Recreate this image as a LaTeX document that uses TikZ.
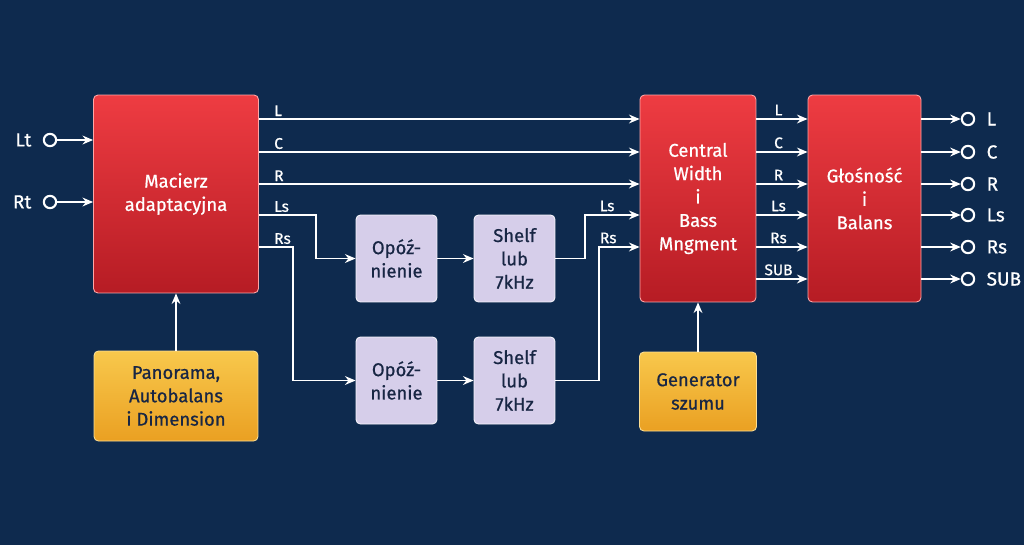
\documentclass[tikz,border=0pt]{standalone}
\usepackage{fontspec}
\setmainfont{Fira Sans}[UprightFeatures={FakeBold=0.7}]
\usetikzlibrary{arrows.meta,positioning}

\definecolor{navy}{RGB}{14,42,78}
\definecolor{redtop}{RGB}{238,60,66}
\definecolor{redbot}{RGB}{182,28,36}
\definecolor{yeltop}{RGB}{248,200,76}
\definecolor{yelbot}{RGB}{234,160,34}
\definecolor{lilac}{RGB}{214,206,234}
\definecolor{ink}{RGB}{24,38,68}

\tikzset{
  boxtext/.style={align=center, font=\fontsize{10.5}{13.3}\selectfont},
  redbox/.style={boxtext, draw=red!35!white, line width=0.5pt, rounded corners=2.5pt,
    top color=redtop, bottom color=redbot, text=white},
  yelbox/.style={boxtext, draw=yeltop!60!white, line width=0.5pt, rounded corners=2.5pt,
    top color=yeltop, bottom color=yelbot, text=ink},
  lilbox/.style={boxtext, draw=white!80!lilac, line width=0.5pt, rounded corners=2.5pt,
    fill=lilac, text=ink, minimum width=1.62cm, minimum height=1.74cm},
  sig/.style={draw=white, line width=1.1pt, -{Stealth[length=6pt,width=5pt]}},
  port/.style={draw=white, line width=1.2pt, circle, fill=navy, inner sep=0pt, minimum size=7pt},
  chan/.style={text=white, font=\fontsize{8.8}{10}\selectfont, inner sep=1.5pt},
  io/.style={text=white, font=\fontsize{10.8}{12}\selectfont}
}

\begin{document}
\begin{tikzpicture}[x=0.02cm, y=-0.02cm]
  \fill[navy] (0,0) rectangle (1024,545);
  \useasboundingbox (0,0) rectangle (1024,545);

  % main blocks
  \node[redbox, minimum width=3.3cm, minimum height=3.96cm] (mac) at (176,194) {Macierz\\adaptacyjna};
  \node[redbox, minimum width=2.32cm, minimum height=4.14cm] (cen) at (698,198.5) {Central\\Width\\i\\Bass\\Mngment};
  \node[redbox, minimum width=2.26cm, minimum height=4.14cm] (vol) at (864.5,198.5) {Głośność\\i\\Balans};

  \node[lilbox] (del1) at (396.5,258.5) {Opóź-\\nienie};
  \node[lilbox] (shf1) at (514.5,258.5) {Shelf\\lub\\7kHz};
  \node[lilbox] (del2) at (396.5,380.5) {Opóź-\\nienie};
  \node[lilbox] (shf2) at (514.5,380.5) {Shelf\\lub\\7kHz};

  \node[yelbox, minimum width=3.28cm, minimum height=1.8cm] (pan) at (176,396) {Panorama,\\Autobalans\\i Dimension};
  \node[yelbox, minimum width=2.34cm, minimum height=1.58cm] (gen) at (698,391.5) {Generator\\szumu};

  % inputs
  \node[port, label={[io, xshift=-3pt]left:Lt}] (iLt) at (50,140) {};
  \node[port, label={[io, xshift=-3pt]left:Rt}] (iRt) at (50,202) {};
  \draw[sig] (iLt) -- (iLt -| mac.west);
  \draw[sig] (iRt) -- (iRt -| mac.west);

  % front channels
  \foreach \ch/\y in {L/119, C/152, R/184} {
    \draw[sig] (mac.east |- 0,\y) -- (cen.west |- 0,\y);
    \node[chan, anchor=south west, xshift=7pt] at (mac.east |- 0,\y) {\ch};
  }
  \node[chan, anchor=south west, xshift=7pt] at (mac.east |- 0,215) {Ls};
  \node[chan, anchor=south west, xshift=7pt] at (mac.east |- 0,247) {Rs};

  % surround paths
  \draw[sig] (mac.east |- 0,215) -- ++(57,0) |- (del1);
  \draw[sig] (mac.east |- 0,247) -- ++(34,0) |- (del2);
  \draw[sig] (del1) -- (shf1);
  \draw[sig] (del2) -- (shf2);
  \draw[sig] (shf1.east) -- ++(30,0) |- (cen.west |- 0,215) node[chan, pos=0.7, above] {Ls};
  \draw[sig] (shf2.east) -- ++(44,0) |- (cen.west |- 0,247) node[chan, pos=0.61, above] {Rs};

  % control
  \draw[sig] (pan) -- (mac);
  \draw[sig] (gen) -- (cen);

  % to volume block
  \foreach \ch/\y in {L/119, C/152, R/184, Ls/215, Rs/247, SUB/279} {
    \draw[sig] (cen.east |- 0,\y) -- (vol.west |- 0,\y) node[chan, midway, above, xshift=-2pt] {\ch};
  }

  % outputs
  \foreach \ch/\y in {L/119, C/152, R/184, Ls/215, Rs/247, SUB/279} {
    \node[port, label={[io, xshift=3pt]right:\ch}] (o\ch) at (968,\y) {};
    \draw[sig] (vol.east |- o\ch) -- (o\ch);
  }
\end{tikzpicture}
\end{document}
